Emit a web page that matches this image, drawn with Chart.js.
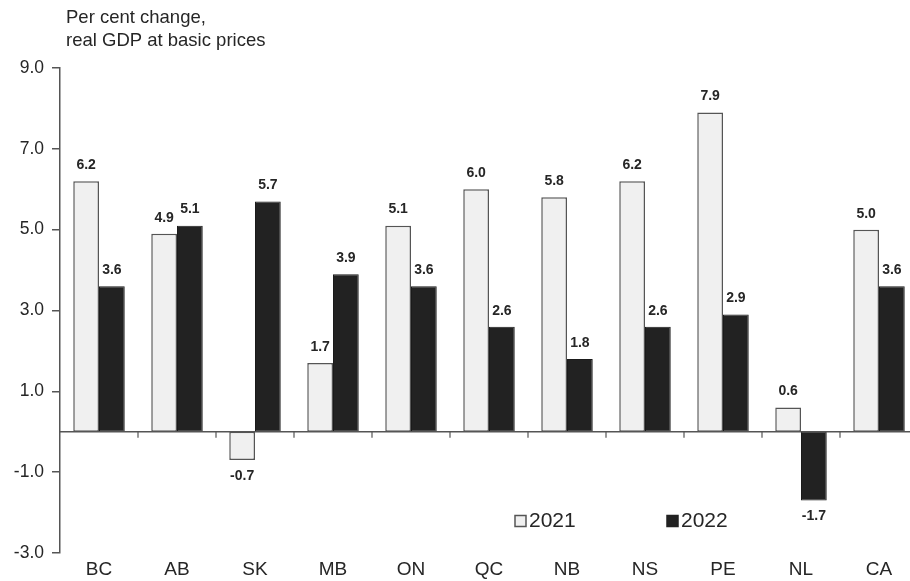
<!DOCTYPE html>
<html>
<head>
<meta charset="utf-8">
<script src="https://cdn.jsdelivr.net/npm/chart.js@4"></script>
<style>
  html, body { margin: 0; padding: 0; background: #fff; overflow: hidden; }
  #wrap { width: 910px; height: 581px; overflow: hidden; position: relative; }
  #c { position: absolute; left: 0; top: 0; }
</style>
</head>
<body>
<div id="wrap"><canvas id="c" width="920" height="581"></canvas></div>
<script>
// Provinces and Canada
const provinces = ['BC', 'AB', 'SK', 'MB', 'ON', 'QC', 'NB', 'NS', 'PE', 'NL', 'CA'];
// Per cent change, real GDP at basic prices
const growth2021 = [6.2, 4.9, -0.7, 1.7, 5.1, 6.0, 5.8, 6.2, 7.9, 0.6, 5.0];
const growth2022 = [3.6, 5.1, 5.7, 3.9, 3.6, 2.6, 1.8, 2.6, 2.9, -1.7, 3.6];
const seriesLabels = ['2021', '2022'];
const yTicks = [-3, -1, 1, 3, 5, 7, 9];
const titleLines = ['Per cent change,', 'real GDP at basic prices'];

const FONT = '"Liberation Sans", Arial, sans-serif';
const TEXT = '#262626';

// Horizontal zero line with small separator marks between categories
const zeroLine = {
  id: 'zeroLine',
  afterDatasetsDraw(chart) {
    const { ctx, chartArea, scales } = chart;
    const y0 = scales.y.getPixelForValue(0);
    ctx.save();
    ctx.strokeStyle = '#555';
    ctx.lineWidth = 1.5;
    ctx.beginPath();
    ctx.moveTo(chartArea.left, y0);
    ctx.lineTo(chartArea.right, y0);
    ctx.stroke();
    ctx.lineWidth = 1.2;
    const n = provinces.length;
    for (let i = 0; i < n - 1; i++) {
      const xb = (scales.x.getPixelForTick(i) + scales.x.getPixelForTick(i + 1)) / 2;
      ctx.beginPath();
      ctx.moveTo(xb, y0);
      ctx.lineTo(xb, y0 + 6);
      ctx.stroke();
    }
    ctx.restore();
  }
};

// Value labels above positive bars and below negative ones
const valueLabels = {
  id: 'valueLabels',
  afterDatasetsDraw(chart) {
    const { ctx } = chart;
    ctx.save();
    ctx.font = 'bold 14px ' + FONT;
    ctx.fillStyle = TEXT;
    ctx.textAlign = 'center';
    ctx.textBaseline = 'middle';
    chart.data.datasets.forEach((ds, di) => {
      const meta = chart.getDatasetMeta(di);
      meta.data.forEach((bar, i) => {
        const v = ds.data[i];
        const y = v >= 0 ? bar.y - 16 : bar.y + 16;
        ctx.fillText(v.toFixed(1), bar.x, y);
      });
    });
    ctx.restore();
  }
};

// Axis caption and in-plot legend
const captionLegend = {
  id: 'captionLegend',
  afterDraw(chart) {
    const { ctx, chartArea } = chart;
    ctx.save();
    ctx.font = '18.5px ' + FONT;
    ctx.fillStyle = TEXT;
    ctx.textAlign = 'left';
    ctx.textBaseline = 'middle';
    titleLines.forEach((t, i) => ctx.fillText(t, chartArea.left + 6, 18 + i * 23));

    const items = [
      { x: 515, fill: '#f0f0f0', stroke: '#555' },
      { x: 667, fill: '#222', stroke: '#222' }
    ];
    const ly = 521;
    ctx.font = '21px ' + FONT;
    items.forEach((it, i) => {
      ctx.fillStyle = it.fill;
      ctx.strokeStyle = it.stroke;
      ctx.lineWidth = 1.5;
      ctx.fillRect(it.x, ly - 5.5, 11, 11);
      ctx.strokeRect(it.x, ly - 5.5, 11, 11);
      ctx.fillStyle = TEXT;
      ctx.fillText(seriesLabels[i], it.x + 14, ly);
    });
    ctx.restore();
  }
};

new Chart(document.getElementById('c'), {
  type: 'bar',
  data: {
    labels: provinces,
    datasets: [
      {
        label: seriesLabels[0],
        data: growth2021,
        backgroundColor: '#f0f0f0',
        borderColor: '#555',
        borderWidth: 1.5,
        borderSkipped: false
      },
      {
        label: seriesLabels[1],
        data: growth2022,
        backgroundColor: '#222',
        borderColor: '#1a1a1a',
        borderWidth: 1,
        borderSkipped: false
      }
    ]
  },
  options: {
    responsive: false,
    animation: false,
    devicePixelRatio: 1,
    layout: { padding: { top: 68, right: 2, bottom: 0, left: 0 } },
    datasets: { bar: { categoryPercentage: 0.66, barPercentage: 1.0 } },
    plugins: {
      legend: { display: false },
      tooltip: { enabled: false },
      title: { display: false }
    },
    scales: {
      x: {
        grid: { display: false },
        border: { display: false },
        ticks: { color: TEXT, font: { family: FONT, size: 19 }, padding: -3 },
        afterFit(s) { s.height = 28; }
      },
      y: {
        min: -3,
        max: 9,
        afterBuildTicks(s) { s.ticks = yTicks.map(v => ({ value: v })); },
        grid: { drawOnChartArea: false, drawTicks: true, tickLength: 8, color: '#555', lineWidth: 1.5 },
        border: { display: true, color: '#555', width: 1.5 },
        ticks: {
          color: TEXT,
          font: { family: FONT, size: 17.5 },
          padding: 8,
          callback: v => Number(v).toFixed(1)
        },
        afterFit(s) { s.width = 60; }
      }
    }
  },
  plugins: [zeroLine, valueLabels, captionLegend]
});
</script>
</body>
</html>
